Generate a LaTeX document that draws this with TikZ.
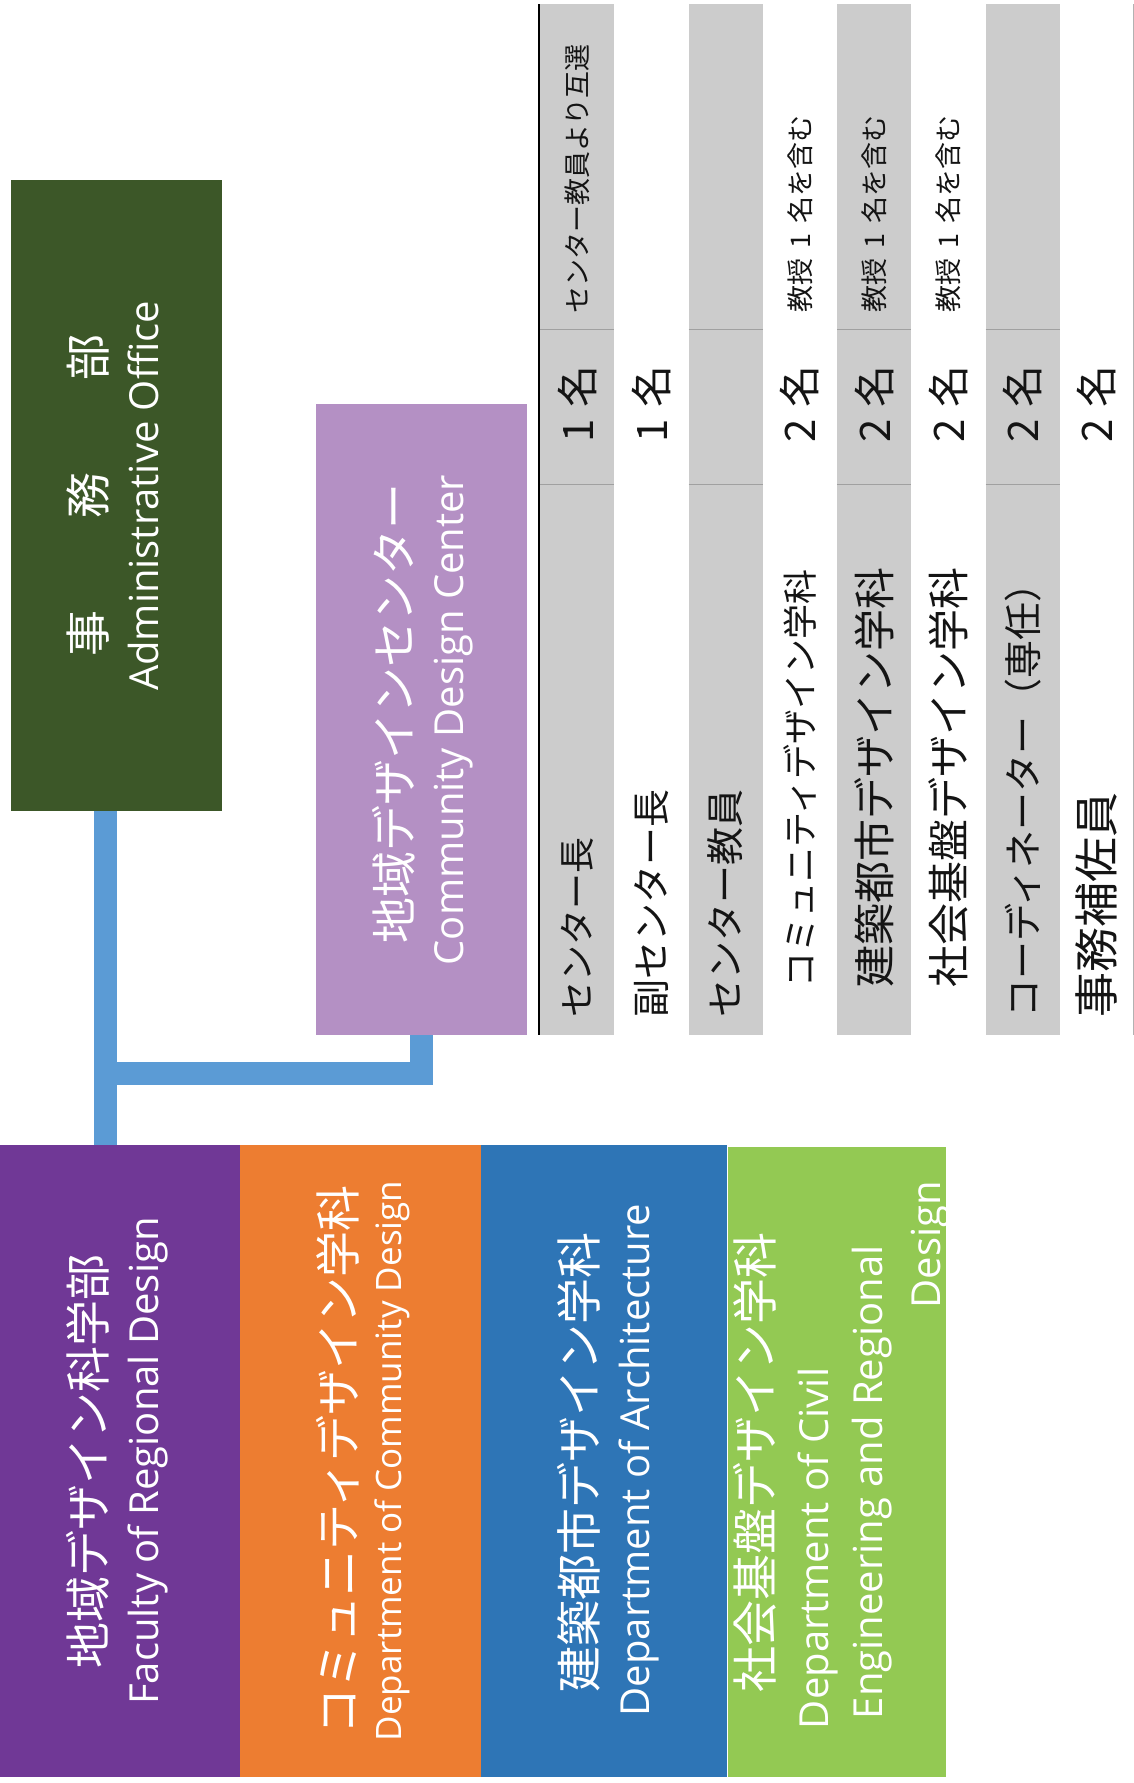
\documentclass[tikz,border=0pt]{standalone}
\usepackage{fontspec}
\setmainfont{Open Sans}
\newfontfamily\jp{Noto Sans CJK JP}
\usetikzlibrary{calc}
\definecolor{admingreen}{RGB}{60,87,40}
\definecolor{cdcpurple}{RGB}{180,144,196}
\definecolor{linkblue}{RGB}{91,155,213}
\definecolor{facpurple}{RGB}{112,56,150}
\definecolor{deporange}{RGB}{237,125,49}
\definecolor{depblue}{RGB}{46,117,182}
\definecolor{depgreen}{RGB}{147,201,83}
\definecolor{cellgray}{RGB}{204,204,204}
\definecolor{cellline}{RGB}{160,160,160}
\definecolor{tabink}{RGB}{20,20,20}
\newcommand{\jps}[1]{\jp\fontsize{#1}{#1}\selectfont}
\begin{document}
\begin{tikzpicture}[x=1pt,y=-1pt,
  box/.style={draw=none, inner sep=0pt, outer sep=0pt},
  vt/.style={rotate=90, inner sep=0pt, outer sep=0pt, anchor=base, text=white},
  jpbig/.style={font=\jp\fontsize{46}{50}\selectfont},
  enbig/.style={font=\fontsize{40}{44}\selectfont},
  enmid/.style={font=\fontsize{35}{40}\selectfont},
  cellname/.style={rotate=90, inner sep=0pt, anchor=west, text=tabink},
  cellnote/.style={rotate=90, inner sep=0pt, anchor=west, text=tabink, font=\jps{27}},
  cellnum/.style={rotate=90, inner sep=0pt, anchor=west, text=tabink, font=\jps{42}},
  link/.style={draw=linkblue, line width=23pt, line join=miter, line cap=butt}
]
\useasboundingbox (0,0) rectangle (1134,1783);

% table shading
\foreach \i in {0,2,4,6}{
  \fill[cellgray] ({540+74.25*\i},4) rectangle ({540+74.25*(\i+1)},1035);
  \draw[cellline, line width=0.8pt] ({540+74.25*\i},329) -- ({540+74.25*(\i+1)},329);
  \draw[cellline, line width=0.8pt] ({540+74.25*\i},484) -- ({540+74.25*(\i+1)},484);
}
\draw[black, line width=2pt] (539,4) -- (539,1035);
\draw[gray!60, line width=1pt] (1133,4) -- (1133,1035);

% boxes
\node[box, fill=admingreen, minimum width=211pt, minimum height=631pt] (admin) at (116.5,495.5) {};
\node[box, fill=cdcpurple, minimum width=211pt, minimum height=631pt] (cdc) at (421.5,719.5) {};
\node[box, fill=facpurple, minimum width=240pt, minimum height=632pt] (fac) at (120,1461) {};
\node[box, fill=deporange, minimum width=241pt, minimum height=632pt] (dcom) at (360.5,1461) {};
\node[box, fill=depblue, minimum width=246pt, minimum height=632pt] (darc) at (604,1461) {};
\node[box, fill=depgreen, minimum width=218pt, minimum height=630pt] (dciv) at (837,1462) {};

% connectors
\coordinate (join) at (105.5,1073);
\draw[link] (admin.south -| join) -- (fac.north -| join);
\draw[link] (cdc.south) |- (join);

% box texts
\node[vt, jpbig] (adminjp) at (105,495) {事　　務　　部};
\node[vt, enbig] (adminen) at (158,496) {Administrative Office};

\node[vt, jpbig] (cdcjp) at (411,713) {地域デザインセンター};
\node[vt, enbig] (cdcen) at (463,720) {Community Design Center};

\node[vt, jpbig] (facjp) at (105,1461) {地域デザイン科学部};
\node[vt, enbig] (facen) at (158,1461) {Faculty of Regional Design};

\node[vt, jpbig] (dcomjp) at (355,1460) {コミュニティデザイン学科};
\node[vt, enmid] (dcomen) at (401,1461) {Department of Community Design};

\node[vt, jpbig] (darcjp) at (596,1462) {建築都市デザイン学科};
\node[vt, enbig] (darcen) at (649,1460) {Department of Architecture};

\node[vt, jpbig] (dcivjp) at (772,1462) {社会基盤デザイン学科};
\node[vt, enbig, anchor=base west] (dciven1) at (828,1729) {Department of Civil};
\node[vt, enbig, anchor=base west] (dciven2) at (882,1719) {Engineering and Regional};
\node[vt, enbig, anchor=base east] (dciven3) at (940,1181) {Design};

% table texts
\node[cellname, font=\jps{36}] (n0) at (577.1,1018) {センター長};
\node[cellname, font=\jps{38}] (n1) at (651.4,1018) {副センター長};
\node[cellname, font=\jps{38}] (n2) at (725.6,1018) {センター教員};
\node[cellname, font=\jps{35}] (n3) at (799.9,1018) {\hspace{30pt}コミュニティデザイン学科};
\node[cellname, font=\jps{42}] (n4) at (874.1,1018) {\hspace{30pt}建築都市デザイン学科};
\node[cellname, font=\jps{42}] (n5) at (948.4,1018) {\hspace{30pt}社会基盤デザイン学科};
\node[cellname, font=\jps{38}] (n6) at (1022.6,1018) {コーディネーター（専任）};
\node[cellname, font=\jps{45}] (n7) at (1096.9,1018) {事務補佐員};

\node[cellnum] (c0) at (577.1,443) {1\hspace{12pt}名};
\node[cellnum] (c1) at (651.4,443) {1\hspace{12pt}名};
\node[cellnum] (c3) at (799.9,443) {2\hspace{12pt}名};
\node[cellnum] (c4) at (874.1,443) {2\hspace{12pt}名};
\node[cellnum] (c5) at (948.4,443) {2\hspace{12pt}名};
\node[cellnum] (c6) at (1022.6,443) {2\hspace{12pt}名};
\node[cellnum] (c7) at (1096.9,443) {2\hspace{12pt}名};

\node[cellnote] (r0) at (577.1,314) {センター教員より互選};
\node[cellnote] (r3) at (799.9,313) {教授\hspace{10pt}1\hspace{10pt}名を含む};
\node[cellnote] (r4) at (874.1,313) {教授\hspace{10pt}1\hspace{10pt}名を含む};
\node[cellnote] (r5) at (948.4,313) {教授\hspace{10pt}1\hspace{10pt}名を含む};
\end{tikzpicture}
\end{document}
